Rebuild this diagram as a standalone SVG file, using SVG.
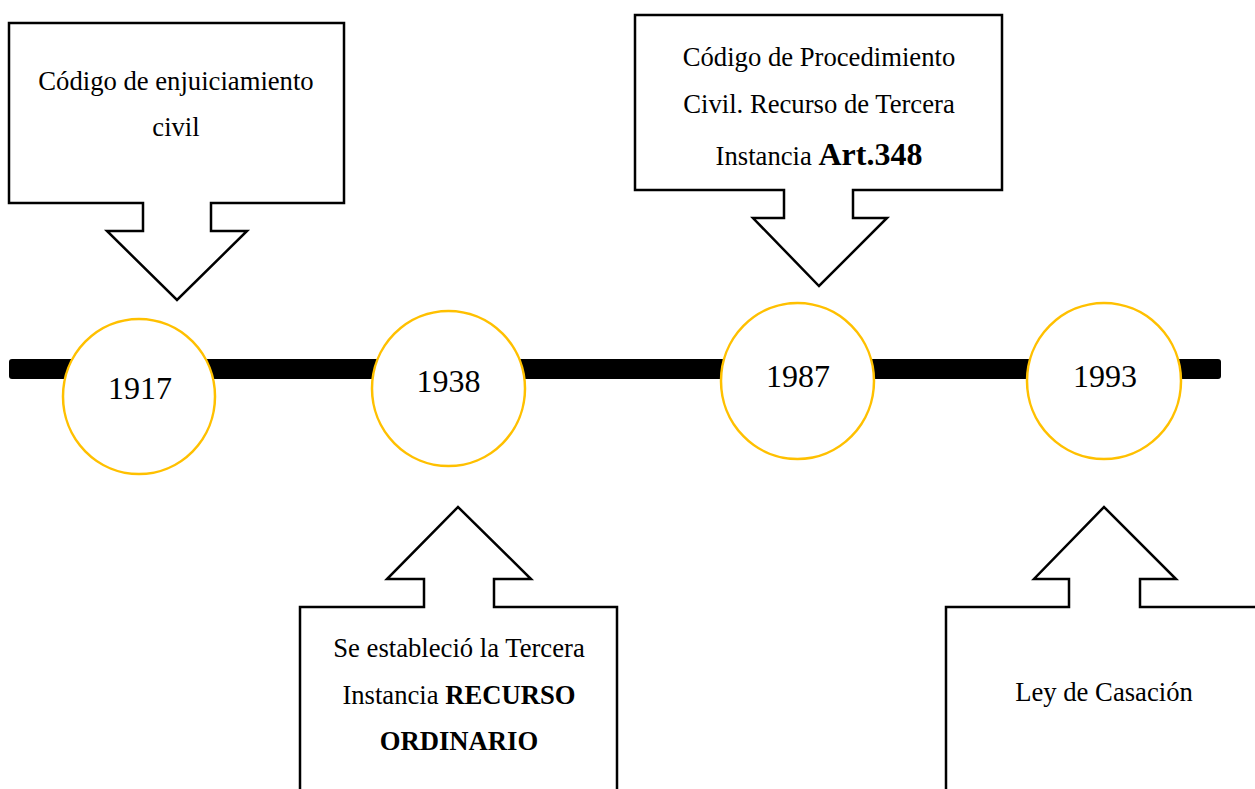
<svg xmlns="http://www.w3.org/2000/svg" width="1255" height="789" viewBox="0 0 1255 789">
  <style>
    .callout { fill: #ffffff; stroke: #000000; stroke-width: 2.5; stroke-linejoin: miter; }
    .year { fill: #ffffff; stroke: #FFC000; stroke-width: 2.5; }
    .t { font-family: "Liberation Serif", "Times New Roman", serif; font-size: 26.67px; fill: #000000; text-anchor: middle; }
    .y { font-family: "Liberation Serif", "Times New Roman", serif; font-size: 32px; fill: #000000; text-anchor: middle; }
    .b { font-weight: bold; }
  </style>
  <rect width="1255" height="789" fill="#ffffff"/>
  <g id="connectors">
    <rect id="timeline" x="9" y="359" width="1212" height="20" rx="3" fill="#000000"/>
  </g>
  <g id="callout-1917">
    <path class="callout" d="M9,23 H344 V203 H211 V231 H247 L177,300 L107,231 H143 V203 H9 Z"/>
    <text class="t" x="176" y="90">Código de enjuiciamiento</text>
    <text class="t" x="176" y="136">civil</text>
  </g>
  <g id="callout-1987">
    <path class="callout" d="M635,15 H1002 V190 H853 V218 H887 L819,286 L753,218 H784 V190 H635 Z"/>
    <text class="t" x="819" y="66">Código de Procedimiento</text>
    <text class="t" x="819" y="113">Civil. Recurso de Tercera</text>
    <text class="t" x="819" y="165">Instancia <tspan class="b" font-size="32px">Art.348</tspan></text>
  </g>
  <g id="callout-1938">
    <path class="callout" d="M300,800 V607 H424 V579 H387 L458,507 L531,579 H494 V607 H617 V800 Z"/>
    <text class="t" x="459" y="657">Se estableció la Tercera</text>
    <text class="t" x="459" y="704">Instancia <tspan class="b">RECURSO</tspan></text>
    <text class="t b" x="459" y="750">ORDINARIO</text>
  </g>
  <g id="callout-1993">
    <path class="callout" d="M946,800 V607 H1069 V579 H1034 L1104,507 L1176,579 H1140 V607 H1270 V800 Z"/>
    <text class="t" x="1104" y="701">Ley de Casación</text>
  </g>
  <g id="node-1917">
    <ellipse class="year" cx="139" cy="396.5" rx="76" ry="77.5"/>
    <text class="y" x="140" y="399">1917</text>
  </g>
  <g id="node-1938">
    <ellipse class="year" cx="448.5" cy="388.5" rx="76.5" ry="77.5"/>
    <text class="y" x="448.5" y="392">1938</text>
  </g>
  <g id="node-1987">
    <ellipse class="year" cx="797.5" cy="381" rx="76.5" ry="78"/>
    <text class="y" x="798" y="387">1987</text>
  </g>
  <g id="node-1993">
    <ellipse class="year" cx="1104" cy="381" rx="77" ry="78"/>
    <text class="y" x="1105" y="387">1993</text>
  </g>
</svg>
